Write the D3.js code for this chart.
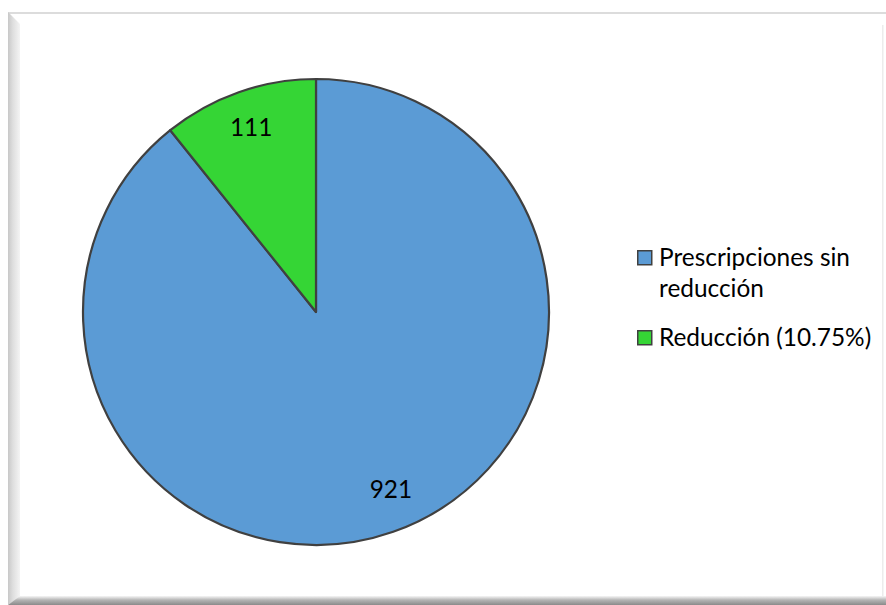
<!DOCTYPE html>
<html>
<head>
<meta charset="utf-8">
<script src="https://cdn.jsdelivr.net/npm/d3@7"></script>
<style>
  html, body { margin: 0; padding: 0; background: #ffffff; }
  svg { display: block; }
  text { font-family: Lato, "Open Sans", sans-serif; fill: #000; }
</style>
</head>
<body>
<script>
// Prescriptions, split by whether the dose was reduced
const categories = ["Prescripciones sin reducción", "Reducción (10.75%)"];
const legendLines = [["Prescripciones sin", "reducción"], ["Reducción (10.75%)"]];
const values = [921, 111];
const colors = ["#5b9bd5", "#35d535"];

const W = 886, H = 605;
const FONT = 24.4;
const svg = d3.select("body").append("svg").attr("width", W).attr("height", H);

// Chart-area frame with a bevelled shadow on the left and bottom edges
const defs = svg.append("defs");
const gl = defs.append("linearGradient").attr("id", "leftShade").attr("x1", 0).attr("x2", 1).attr("y1", 0).attr("y2", 0);
gl.append("stop").attr("offset", 0).attr("stop-color", "#c8c8c8");
gl.append("stop").attr("offset", 0.4).attr("stop-color", "#dedede");
gl.append("stop").attr("offset", 1).attr("stop-color", "#f4f4f4");
const gb = defs.append("linearGradient").attr("id", "bottomShade").attr("x1", 0).attr("x2", 0).attr("y1", 0).attr("y2", 1);
gb.append("stop").attr("offset", 0).attr("stop-color", "#f6f6f6");
gb.append("stop").attr("offset", 0.45).attr("stop-color", "#b4b4b4");
gb.append("stop").attr("offset", 1).attr("stop-color", "#8a8a8a");

svg.append("rect").attr("x", 8).attr("y", 12).attr("width", W - 8).attr("height", 2).attr("fill", "#dcdcdc");
svg.append("path").attr("d", "M8,12 L20,24 L20,597 L8,605 Z").attr("fill", "url(#leftShade)");
svg.append("path").attr("d", "M8,605 L20,596 L886,596 L886,605 Z").attr("fill", "url(#bottomShade)");
svg.append("rect").attr("x", 882).attr("y", 25).attr("width", 1.5).attr("height", 571).attr("fill", "#ececec");

// Pie
const cx = 316, cy = 312, r = 233;
const pie = d3.pie().sort(null).value(d => d)(values);
const arc = d3.arc().innerRadius(0).outerRadius(r);
const labelArc = d3.arc().innerRadius(r * 0.84).outerRadius(r * 0.84);
// small nudges so the value labels sit clear of the slice borders
const labelNudge = [[10, -7], [0, 0]];

const g = svg.append("g").attr("transform", `translate(${cx},${cy})`);
g.selectAll("path.slice").data(pie).join("path")
  .attr("class", "slice")
  .attr("d", arc)
  .attr("fill", (d, i) => colors[i])
  .attr("stroke", "#404040")
  .attr("stroke-width", 2.2)
  .attr("stroke-linejoin", "round");

g.selectAll("text.val").data(pie).join("text")
  .attr("class", "val")
  .attr("transform", (d, i) => {
    const [x, y] = labelArc.centroid(d);
    return `translate(${x + labelNudge[i][0]},${y + labelNudge[i][1]})`;
  })
  .attr("text-anchor", "middle")
  .attr("dy", "0.36em")
  .attr("font-size", FONT)
  .text(d => d.data);

// Legend
const legendX = 637;
const legendY = [250, 330];
const lg = svg.append("g");
categories.forEach((c, i) => {
  const item = lg.append("g").attr("transform", `translate(${legendX},${legendY[i]})`);
  item.append("rect").attr("x", 0.75).attr("y", 0.75).attr("width", 14).attr("height", 14)
    .attr("fill", colors[i]).attr("stroke", "#404040").attr("stroke-width", 1.5);
  const t = item.append("text").attr("font-size", FONT);
  legendLines[i].forEach((ln, j) => {
    t.append("tspan").attr("x", 22).attr("y", 16 + j * 31).text(ln);
  });
});
</script>
</body>
</html>
